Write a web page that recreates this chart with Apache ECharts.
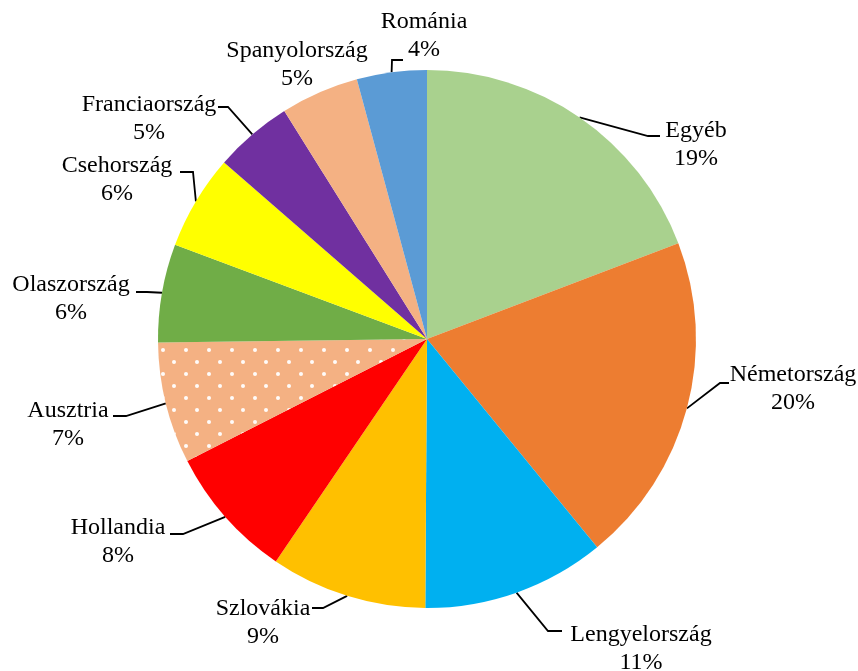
<!DOCTYPE html>
<html>
<head>
<meta charset="utf-8">
<script src="https://cdn.jsdelivr.net/npm/echarts@6/dist/echarts.min.js"></script>
<style>html,body{margin:0;padding:0;background:#fff}#c{width:858px;height:671px}</style>
</head>
<body>
<div id="c"></div>
<script>
const categories = ['Egyéb','Németország','Lengyelország','Szlovákia','Hollandia','Ausztria','Olaszország','Csehország','Franciaország','Spanyolország','Románia'];
const values = [19.2, 19.9, 11.0, 9.4, 8.0, 7.3, 5.9, 5.7, 4.7, 4.7, 4.2];
const colors = ['#A9D18E','#ED7D31','#00B0F0','#FFC000','#FF0000','#F4B183','#70AD47','#FFFF00','#7030A0','#F4B183','#5B9BD5'];

// label text centres and leader-line elbow / end points (layout only)
const labelPos = [[696,145],[793,389],[641,649],[263,623],[118,542],[68,425],[71,299],[117,180],[149,119],[297,65],[424,36]];
const leaderElbow = [[648,136],[720,383],[548,631],[323,608],[183,534],[126,416],[147,292],[193,172],[228,107],null,[392,60]];
const leaderEnd = [[660,136],[729,383],[562,631],[312,608],[170,534],[113,416],[136,292],[180,172],[218,107],null,[403,60]];

const data = categories.map((name, i) => {
  const item = { name: name, value: values[i], itemStyle: { color: colors[i] } };
  if (name === 'Ausztria') {
    item.itemStyle.decal = {
      symbol: 'circle',
      symbolSize: 1,
      color: 'rgba(255,255,255,0.95)',
      dashArrayX: [[3.5, 18.2], [0, 10.85, 3.5, 7.35]],
      dashArrayY: [3.5, 7.3],
      rotation: 0
    };
  }
  if (leaderElbow[i] === null) item.labelLine = { show: false };
  return item;
});

const chart = echarts.init(document.getElementById('c'), null, { renderer: 'canvas' });
chart.setOption({
  animation: false,
  backgroundColor: '#fff',
  series: [{
    type: 'pie',
    center: [427, 339],
    radius: 269,
    startAngle: 90,
    clockwise: true,
    data: data,
    label: {
      show: true,
      position: 'outside',
      fontFamily: 'Liberation Serif',
      fontSize: 24,
      lineHeight: 28,
      color: '#000',
      align: 'center',
      formatter: p => p.name + '\n' + Math.round(p.value) + '%'
    },
    labelLine: {
      show: true,
      length: 10,
      length2: 10,
      lineStyle: { color: '#000', width: 1.8 }
    },
    labelLayout: function (params) {
      const i = params.dataIndex;
      const res = {
        x: labelPos[i][0],
        y: labelPos[i][1],
        align: 'center',
        verticalAlign: 'middle'
      };
      if (leaderElbow[i] && params.labelLinePoints) {
        res.labelLinePoints = [params.labelLinePoints[0], leaderElbow[i], leaderEnd[i]];
      }
      return res;
    },
    emphasis: { disabled: true }
  }]
});
</script>
</body>
</html>
